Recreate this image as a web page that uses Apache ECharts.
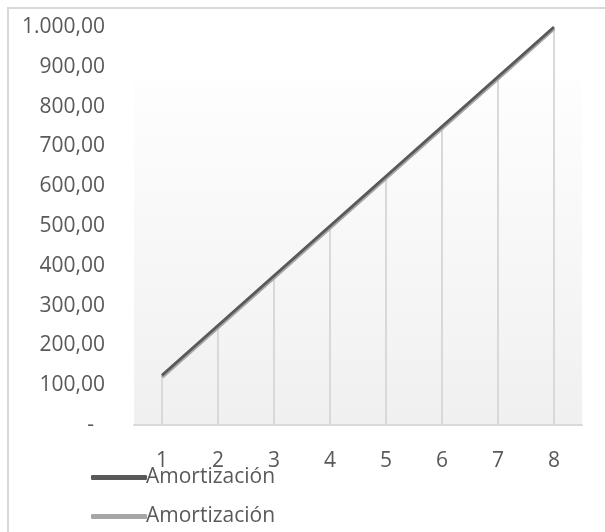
<!DOCTYPE html>
<html>
<head>
<meta charset="utf-8">
<script src="https://cdn.jsdelivr.net/npm/echarts@6/dist/echarts.min.js"></script>
<style>
  html, body { margin: 0; padding: 0; background: #fff; }
  #frame { position: absolute; left: 7px; top: 7px; width: 610px; height: 540px;
           border: 2px solid #d9d9d9; box-sizing: border-box; }
  #chart { position: absolute; left: 0; top: 0; width: 605px; height: 532px; }
</style>
</head>
<body>
<div id="frame"></div>
<div id="chart"></div>
<script>
// Periods 1..8
const periods = ['1', '2', '3', '4', '5', '6', '7', '8'];
// Cumulative amortization (two series drawn almost on top of each other)
const amortA = [125, 250, 375, 500, 625, 750, 875, 1000];
const amortB = [120, 245, 370, 495, 620, 745, 870, 996];
const seriesNames = ['Amortización', 'Amortización'];

const fmt = v => {
  if (v === 0) return '-  ';
  const s = v.toFixed(2).split('.');
  const int = s[0].replace(/\B(?=(\d{3})+(?!\d))/g, '.');
  return int + ',' + s[1];
};

const chart = echarts.init(document.getElementById('chart'), null, { renderer: 'canvas' });
chart.setOption({
  animation: false,
  textStyle: { fontFamily: 'Open Sans' },
  grid: {
    left: 134, right: 23, top: 27, bottom: 107,
    show: true, borderWidth: 0,
    backgroundColor: {
      type: 'linear', x: 0, y: 0, x2: 0, y2: 1,
      colorStops: [
        { offset: 0, color: '#ffffff' },
        { offset: 0.128, color: '#ffffff' },
        { offset: 0.13, color: '#fefefe' },
        { offset: 1, color: '#f0f0f0' }
      ]
    }
  },
  legend: {
    orient: 'vertical',
    left: 86, top: 462,
    itemGap: 18,
    itemWidth: 56, itemHeight: 5,
    icon: 'roundRect',
    textStyle: { fontSize: 21, color: '#595959', padding: [0, 0, 0, -6] },
    data: [
      { name: 'A', itemStyle: { color: '#595959' } },
      { name: 'B', itemStyle: { color: '#a6a6a6' } }
    ],
    formatter: n => n === 'A' ? seriesNames[0] : seriesNames[1]
  },
  xAxis: {
    type: 'category',
    data: periods,
    boundaryGap: true,
    axisLine: { lineStyle: { color: '#d9d9d9', width: 2 } },
    axisTick: { show: false },
    axisLabel: { fontSize: 21, color: '#595959', margin: 26 }
  },
  yAxis: {
    type: 'value',
    min: 0, max: 1000, interval: 100,
    axisLine: { show: false },
    axisTick: { show: false },
    splitLine: { show: false },
    axisLabel: { fontSize: 21, color: '#595959', margin: 29, formatter: fmt }
  },
  series: [
    {
      name: 'drop', type: 'bar', data: amortB, barWidth: 2, silent: true,
      itemStyle: { color: '#d9d9d9' }, z: 1
    },
    {
      name: 'B', type: 'line', data: amortB, symbol: 'none',
      lineStyle: { color: '#a6a6a6', width: 3.5 }, itemStyle: { color: '#a6a6a6' }, z: 2
    },
    {
      name: 'A', type: 'line', data: amortA, symbol: 'none',
      lineStyle: { color: '#595959', width: 3 }, itemStyle: { color: '#595959' }, z: 3
    }
  ]
});
</script>
</body>
</html>
